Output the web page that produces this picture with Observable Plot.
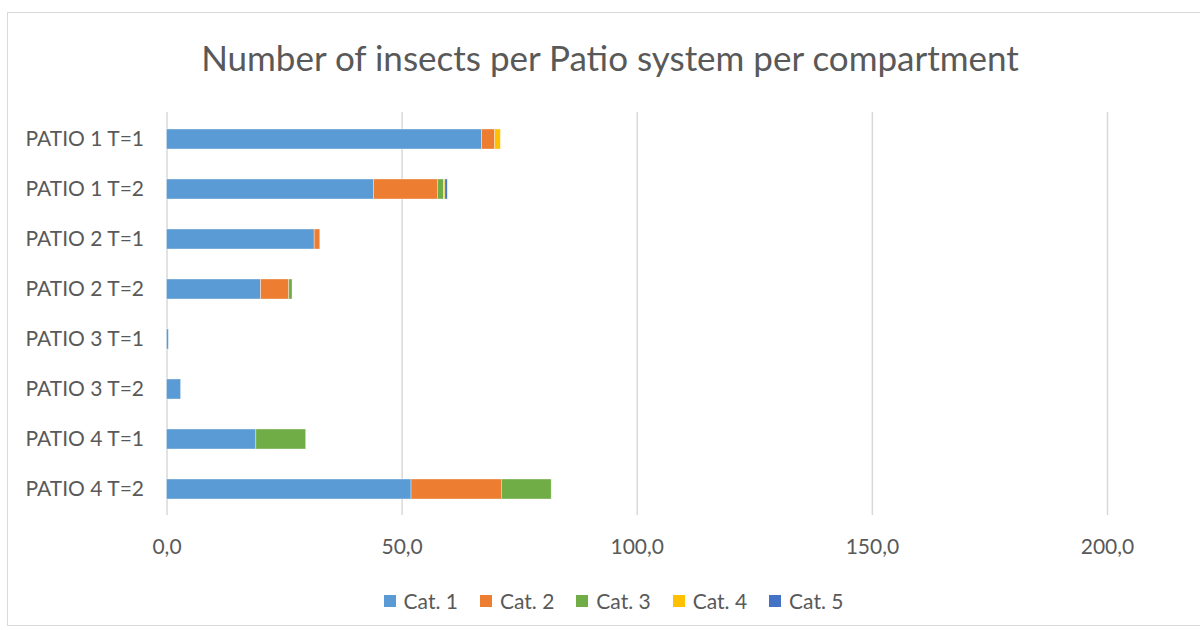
<!DOCTYPE html>
<html>
<head>
<meta charset="utf-8">
<script src="https://cdn.jsdelivr.net/npm/d3@7"></script>
<script src="https://cdn.jsdelivr.net/npm/@observablehq/plot@0.6"></script>
<style>
  html, body { margin: 0; padding: 0; background: #fff; }
  body { width: 1200px; height: 630px; position: relative; overflow: hidden; font-family: Lato, "Open Sans", sans-serif; }
  #frame { position: absolute; left: 7px; top: 12px; width: 1206px; height: 614px; border: 1px solid #d9d9d9; box-sizing: border-box; }
  #title { position: absolute; left: 7px; width: 1206px; top: 36px; line-height: 42px; text-align: center; font-size: 35px; color: #595959; }
  #chart { position: absolute; left: 0; top: 0; }
  #legend { position: absolute; left: 0; width: 1227px; top: 588px; line-height: 26px; display: flex; justify-content: center; gap: 22px; font-size: 21px; color: #595959; }
  #legend span.item { display: flex; align-items: center; gap: 8px; }
  #legend span.sw { width: 12px; height: 12px; display: inline-block; }
</style>
</head>
<body>
<div id="frame"></div>
<div id="title">Number of insects per Patio system per compartment</div>
<div id="chart"></div>
<div id="legend"></div>
<script>
const rows = ["PATIO 1 T=1","PATIO 1 T=2","PATIO 2 T=1","PATIO 2 T=2","PATIO 3 T=1","PATIO 3 T=2","PATIO 4 T=1","PATIO 4 T=2"];
const categories = ["Cat. 1","Cat. 2","Cat. 3","Cat. 4","Cat. 5"];
const colors = ["#5B9BD5","#ED7D31","#70AD47","#FFC000","#4472C4"];
const cat1 = [67, 44, 31.4, 20, 0.4, 3, 19, 52];
const cat2 = [2.8, 13.6, 1.2, 6, 0, 0, 0, 19.2];
const cat3 = [0, 1.3, 0, 0.7, 0, 0, 10.6, 10.6];
const cat4 = [1.2, 0.3, 0, 0, 0, 0, 0, 0];
const cat5 = [0, 0.5, 0, 0, 0, 0, 0, 0];
const xTicks = [0, 50, 100, 150, 200];

const series = [cat1, cat2, cat3, cat4, cat5];
const data = [];
rows.forEach((r, i) => series.forEach((s, j) => data.push({row: r, cat: categories[j], value: s[i]})));

const fmt = v => v.toFixed(1).replace(".", ",");

const chart = Plot.plot({
  width: 1200,
  height: 630,
  marginTop: 112,
  marginBottom: 115,
  marginLeft: 166.5,
  marginRight: 93,
  style: {fontFamily: "Lato, 'Open Sans', sans-serif", fontSize: "21px", color: "#595959", background: "transparent"},
  x: {domain: [0, 200], ticks: xTicks, tickFormat: fmt, label: null},
  y: {domain: rows, paddingInner: 0.6, paddingOuter: 0.3, align: 0.5, label: null},
  color: {domain: categories, range: colors},
  marks: [
    Plot.gridX(xTicks, {stroke: "#d9d9d9", strokeOpacity: 1, strokeWidth: 1.5}),
    Plot.barX(data, {x: "value", y: "row", fill: "cat", stroke: "#fff", strokeWidth: 0.6, strokeOpacity: 0.6}),
    Plot.axisX(xTicks, {tickSize: 0, tickPadding: 24, tickFormat: fmt, fontSize: 21, fill: "#595959", label: null}),
    Plot.axisY({tickSize: 0, tickPadding: 23, fontSize: 21, fill: "#595959", label: null})
  ]
});
document.getElementById("chart").appendChild(chart);

const legend = document.getElementById("legend");
categories.forEach((c, i) => {
  const it = document.createElement("span");
  it.className = "item";
  it.innerHTML = `<span class="sw" style="background:${colors[i]}"></span>${c}`;
  legend.appendChild(it);
});
</script>
</body>
</html>
